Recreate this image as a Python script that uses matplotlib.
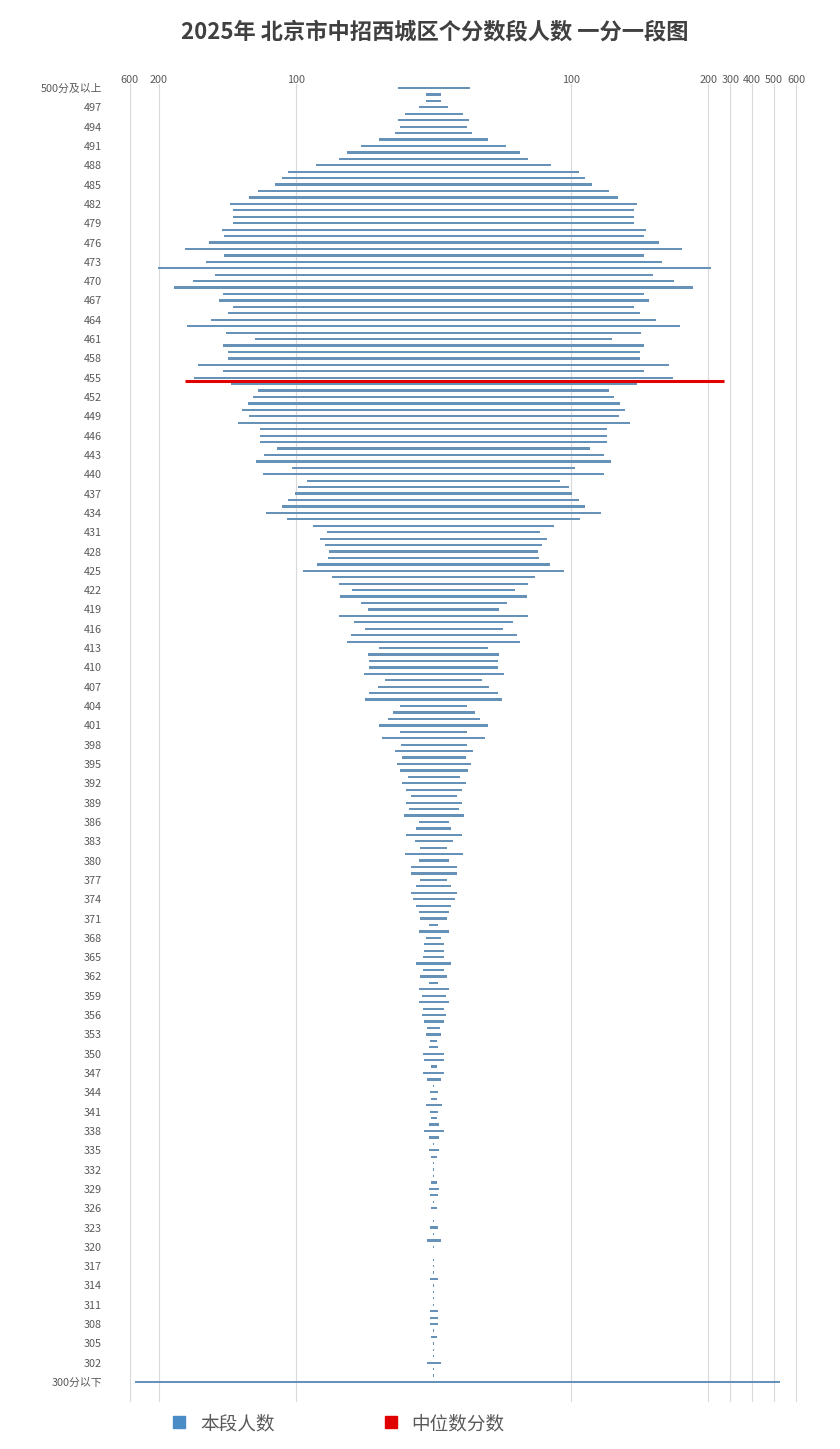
import numpy as np
import matplotlib
matplotlib.use("Agg")
import matplotlib.pyplot as plt
from matplotlib.lines import Line2D
from matplotlib.ticker import NullLocator

plt.rcParams['font.family'] = ['Noto Sans CJK SC', 'DejaVu Sans']

# score rows, top to bottom
row_labels = ['500分及以上'] + [str(s) for s in range(499, 299, -1)] + ['300分以下']

# bar half-widths (axis units), one per row
vals = np.array([
    26.2, 5.6, 5.6, 10.8, 21.1, 26.0, 24.4, 28.3, 39.4, 53.0,
    62.7, 68.6, 85.7, 105.9, 110.3, 115.2, 128.0, 134.4, 148.4, 146.2,
    146.2, 146.2, 154.3, 152.9, 163.8, 180.8, 152.9, 165.9, 212.0, 159.5,
    174.9, 188.7, 153.5, 156.5, 146.2, 150.0, 161.7, 179.2, 151.3, 130.0,
    153.5, 150.0, 150.0, 171.3, 153.5, 174.1, 147.8, 128.0, 131.6, 135.4,
    139.5, 134.6, 142.7, 126.5, 126.5, 126.5, 114.1, 123.7, 129.4, 103.0,
    124.3, 92.1, 98.6, 100.8, 105.9, 110.3, 122.1, 106.8, 87.8, 77.3,
    82.7, 78.9, 76.2, 76.8, 84.8, 95.1, 73.8, 68.7, 59.2, 67.8,
    53.2, 47.5, 68.7, 57.6, 50.3, 60.5, 62.7, 39.4, 47.5, 46.8,
    46.8, 51.0, 35.1, 40.2, 46.8, 49.7, 24.6, 29.8, 33.5, 39.4,
    24.6, 37.3, 24.0, 28.4, 23.3, 27.0, 24.8, 18.9, 23.3, 20.4,
    16.7, 20.4, 18.2, 21.8, 10.9, 13.0, 20.4, 13.8, 10.1, 21.1,
    10.9, 16.7, 16.7, 10.1, 13.0, 16.7, 15.2, 13.0, 10.9, 10.1,
    3.5, 10.9, 5.7, 7.2, 7.2, 7.9, 13.0, 7.9, 10.1, 3.5,
    10.9, 8.7, 10.9, 7.9, 8.7, 7.2, 5.0, 5.7, 2.8, 3.5,
    7.9, 7.2, 2.2, 7.9, 5.1, 0.5, 2.9, 2.2, 5.9, 2.9,
    2.2, 3.7, 7.3, 3.7, 0.5, 3.7, 2.2, 0.5, 0.5, 0.5,
    2.2, 3.7, 2.9, 0.5, 2.2, 0.0, 0.5, 2.9, 0.5, 5.1,
    0.5, 0.0, 0.5, 0.5, 0.5, 2.9, 0.5, 0.5, 0.5, 0.5,
    2.9, 2.9, 2.9, 0.5, 2.2, 0.5, 0.5, 0.5, 5.1, 0.5,
    0.5, 525.0,
])

median_score = 454.5
median_span = [-181, 270]

xticks = [-600, -200, -100, 100, 200, 300, 400, 500, 600]

title = '2025年 北京市中招西城区个分数段人数 一分一段图'
bar_color = '#6592b6'
red = '#e00000'
grey = '#595959'


# axis is linear up to 200, squeezed beyond that (more on the left side)
def fwd(x):
    x = np.asarray(x, dtype=float)
    a = np.abs(x)
    k = np.where(x > 0, 0.1596, 0.0534)
    r = np.where(a <= 200, a / 100, 2 + (a - 200) / 100 * k)
    return np.sign(x) * r


def inv(y):
    y = np.asarray(y, dtype=float)
    a = np.abs(y)
    k = np.where(y > 0, 0.1596, 0.0534)
    r = np.where(a <= 2, a * 100, 200 + (a - 2) * 100 / k)
    return np.sign(y) * r


rows = np.arange(len(row_labels))

fig = plt.figure(figsize=(8.4, 14.49), dpi=100)
ax = fig.add_axes([0.1542, 0.0331, 0.7935, 0.9086])
ax.set_xscale('function', functions=(fwd, inv))
ax.set_xlim(-600, 600)
ax.set_ylim(203.95, -0.55)

ax.barh(rows, 2 * vals, left=-vals, height=0.35, color=bar_color, linewidth=0)

median_row = 500 - median_score
ax.hlines(median_row, median_span[0], median_span[1], color=red, lw=2.2)

ax.set_xticks(xticks)
ax.set_xticklabels([str(abs(t)) for t in xticks])
ax.xaxis.set_minor_locator(NullLocator())
ax.xaxis.tick_top()
ax.tick_params(axis='x', length=0, pad=-0.5, labelsize=7.8, labelcolor=grey)
ax.grid(axis='x', color='#d9d9d9', lw=0.8, clip_on=False)
ax.set_axisbelow(True)

ax.set_yticks(rows[::3])
ax.set_yticklabels(row_labels[::3])
ax.tick_params(axis='y', length=0, pad=19.8, labelsize=7.8, labelcolor=grey)

for s in ax.spines.values():
    s.set_visible(False)

fig.text(0.517, 1 - 32 / 1449, title, ha='center', va='center',
         fontsize=16, fontweight='bold', color='#404040')

handles = [
    Line2D([], [], marker='s', linestyle='none', markersize=9, color='#4a8cc6'),
    Line2D([], [], marker='s', linestyle='none', markersize=9, color=red),
]
fig.legend(handles, ['本段人数', '中位数分数'], loc='center',
           bbox_to_anchor=(338.5 / 840, 1 - 1424 / 1449), ncol=2, frameon=False,
           fontsize=13.4, labelcolor=grey, handlelength=0.7, handletextpad=0.75,
           columnspacing=5.9)

fig.savefig('out.png', dpi=100)
